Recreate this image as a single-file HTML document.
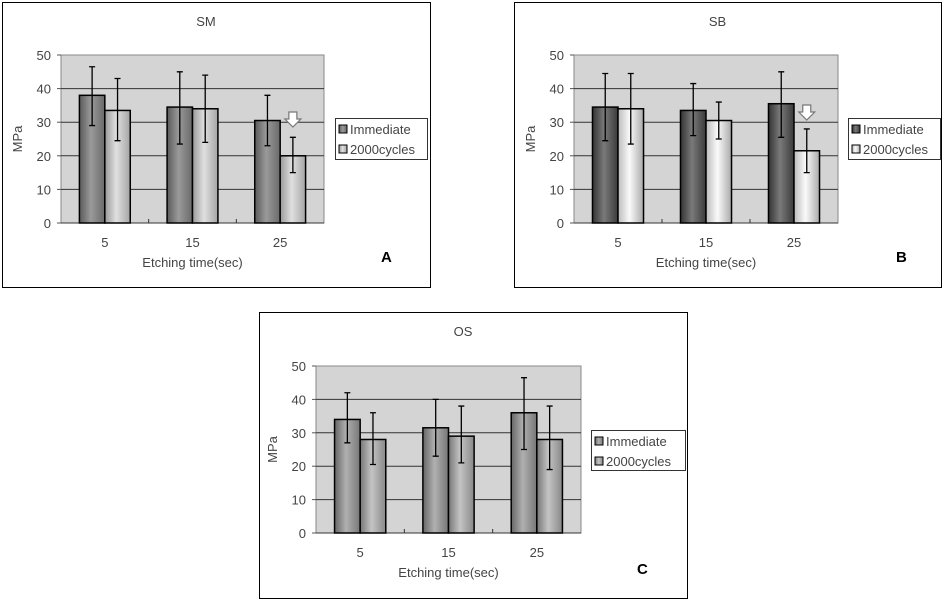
<!DOCTYPE html>
<html><head><meta charset="utf-8">
<style>
html,body{margin:0;padding:0;background:#fff;width:944px;height:600px;overflow:hidden;}
svg text{font-family:"Liberation Sans",sans-serif;}
</style></head>
<body>
<svg id="fig" width="944" height="600" viewBox="0 0 944 600" xmlns="http://www.w3.org/2000/svg">
<defs>
<linearGradient id="gA1" x1="0" x2="1"><stop offset="0" stop-color="#5a5a5a"/><stop offset="0.45" stop-color="#9a9a9a"/><stop offset="1" stop-color="#6a6a6a"/></linearGradient>
<linearGradient id="gA2" x1="0" x2="1"><stop offset="0" stop-color="#999"/><stop offset="0.45" stop-color="#e0e0e0"/><stop offset="1" stop-color="#a5a5a5"/></linearGradient>
<linearGradient id="gB1" x1="0" x2="1"><stop offset="0" stop-color="#333"/><stop offset="0.45" stop-color="#7a7a7a"/><stop offset="1" stop-color="#3a3a3a"/></linearGradient>
<linearGradient id="gB2" x1="0" x2="1"><stop offset="0" stop-color="#bbb"/><stop offset="0.45" stop-color="#fafafa"/><stop offset="1" stop-color="#aaa"/></linearGradient>
<linearGradient id="gC1" x1="0" x2="1"><stop offset="0" stop-color="#666"/><stop offset="0.45" stop-color="#b0b0b0"/><stop offset="1" stop-color="#777"/></linearGradient>
<linearGradient id="gC2" x1="0" x2="1"><stop offset="0" stop-color="#777"/><stop offset="0.45" stop-color="#c4c4c4"/><stop offset="1" stop-color="#888"/></linearGradient>
</defs>
</svg>
<script>
const categories = ["5","15","25"];
const yTicks = [0,10,20,30,40,50];
const seriesNames = ["Immediate","2000cycles"];
const smImmediate = [38,34.5,30.5];
const smImmediateHi = [46.5,45,38];
const smImmediateLo = [29,23.5,23];
const smCycles = [33.5,34,20];
const smCyclesHi = [43,44,25.5];
const smCyclesLo = [24.5,24,15];
const sbImmediate = [34.5,33.5,35.5];
const sbImmediateHi = [44.5,41.5,45];
const sbImmediateLo = [24.5,26,25.5];
const sbCycles = [34,30.5,21.5];
const sbCyclesHi = [44.5,36,28];
const sbCyclesLo = [23.5,25,15];
const osImmediate = [34,31.5,36];
const osImmediateHi = [42,40,46.5];
const osImmediateLo = [27,23,25];
const osCycles = [28,29,28];
const osCyclesHi = [36,38,38];
const osCyclesLo = [20.5,21,19];

const NS="http://www.w3.org/2000/svg";
const svg=document.getElementById('fig');
function mk(tag,attrs,parent){const e=document.createElementNS(NS,tag);for(const k in attrs)e.setAttribute(k,attrs[k]);(parent||svg).appendChild(e);return e;}

function panel(cfg){
  const g=mk('g',{});
  
  
  const fr=mk('rect',{x:cfg.box[0]+0.5,y:cfg.box[1]+0.5,width:cfg.box[2]-cfg.box[0],height:cfg.box[3]-cfg.box[1],fill:'#fff',stroke:'#000','stroke-width':1},g);
  
  
  const L=cfg.plot[0],R=cfg.plot[1],T=cfg.plot[2],B=cfg.plot[3];
  const y=v=>B-(v/50)*(B-T);
  const cw=(R-L)/categories.length;
  const x=i=>L+cw*(i+0.5);
  const bg=mk('rect',{x:L,y:T,width:R-L,height:B-T,fill:'#d4d4d4',stroke:'#888','stroke-width':1},g);
  
  
  yTicks.forEach(t=>{
    if(t>0&&t<50){const gl=mk('line',{x1:L,x2:R,y1:y(t),y2:y(t),stroke:'#333','stroke-width':1},g);
      }
    mk('line',{x1:L-4,x2:L,y1:y(t),y2:y(t),stroke:'#555'},g);
    const tx=mk('text',{x:L-10,y:y(t)+5,'text-anchor':'end','font-size':13,fill:'#444'},g);
    tx.textContent=t;
    
  });
  mk('line',{x1:L,x2:R,y1:B,y2:B,stroke:'#333'},g);
  for(let i=1;i<categories.length;i++) mk('line',{x1:L+cw*i,x2:L+cw*i,y1:B-4,y2:B,stroke:'#333'},g);
  const bw=cw*0.29;
  cfg.series.forEach((s,si)=>{
    categories.forEach((c,i)=>{
      const bx=x(i)-bw+si*bw;
      const r=mk('rect',{x:bx,y:y(s.v[i]),width:bw,height:B-y(s.v[i]),fill:s.fill,stroke:'#000','stroke-width':1.5},g);
      
      
    });
  });
  cfg.series.forEach((s,si)=>{
    categories.forEach((c,i)=>{
      const cx=x(i)-bw/2+si*bw;
      const eb=mk('path',{d:`M${cx},${y(s.hi[i])}V${y(s.lo[i])}M${cx-3},${y(s.hi[i])}H${cx+3}M${cx-3},${y(s.lo[i])}H${cx+3}`,stroke:'#000','stroke-width':1.3,fill:'none'},g);
      
      
    });
  });
  categories.forEach((c,i)=>{
    const t=mk('text',{x:x(i),y:B+24,'text-anchor':'middle','font-size':13,fill:'#444'},g);
    t.textContent=c;
    
  });
  const xt=mk('text',{x:(L+R)/2,y:B+44,'text-anchor':'middle','font-size':13,fill:'#444'},g);
  xt.textContent='Etching time(sec)';
  
  const yt=mk('text',{x:0,y:0,'text-anchor':'middle','font-size':13,fill:'#444',transform:`translate(${L-39},${(T+B)/2}) rotate(-90)`},g);
  yt.textContent='MPa';
  
  const tt=mk('text',{x:(cfg.box[0]+cfg.box[2])/2-10,y:cfg.box[1]+24,'text-anchor':'middle','font-size':13,fill:'#444'},g);
  tt.textContent=cfg.title;
  
  const lg=cfg.legend;
  const lb=mk('rect',{x:lg[0]+0.5,y:lg[1]+0.5,width:lg[2]-lg[0],height:lg[3]-lg[1],fill:'#fff',stroke:'#333'},g);
  
  cfg.series.forEach((s,si)=>{
    const ly=lg[1]+7+si*20;
    const sw=mk('rect',{x:lg[0]+4,y:ly,width:8,height:8,fill:s.fill,stroke:'#000'},g);
    
    const lt=mk('text',{x:lg[0]+15,y:ly+9,'font-size':13,fill:'#444'},g);
    lt.textContent=seriesNames[si];
    
  });
  if(cfg.arrow){
    const ax=x(2)+bw/2, ay=cfg.arrowY;
    const ar=mk('path',{d:`M${ax-4},${ay}H${ax+4}V${ay+7}H${ax+8}L${ax},${ay+15}L${ax-8},${ay+7}H${ax-4}Z`,fill:'#fff',stroke:'#777','stroke-width':1.2},g);
    
  }
  const pl=mk('text',{x:cfg.labelPos[0],y:cfg.labelPos[1],'font-size':15,'font-weight':'bold',fill:'#000'},g);
  pl.textContent=cfg.label;
  
}

panel({name:'panel-a-sm',title:'SM',label:'A',box:[2,2,430,287],plot:[61,324,55,223],legend:[335,118,427,159],labelPos:[381,262],arrow:true,arrowY:112,
  series:[{v:smImmediate,hi:smImmediateHi,lo:smImmediateLo,fill:'url(#gA1)'},{v:smCycles,hi:smCyclesHi,lo:smCyclesLo,fill:'url(#gA2)'}]});
panel({name:'panel-b-sb',title:'SB',label:'B',box:[514,2,941,287],plot:[574,838,55,223],legend:[848,118,940,159],labelPos:[896,262],arrow:true,arrowY:105,
  series:[{v:sbImmediate,hi:sbImmediateHi,lo:sbImmediateLo,fill:'url(#gB1)'},{v:sbCycles,hi:sbCyclesHi,lo:sbCyclesLo,fill:'url(#gB2)'}]});
panel({name:'panel-c-os',title:'OS',label:'C',box:[259,312,687,598],plot:[316,581,366,533],legend:[591,430,685,470],labelPos:[637,574],arrow:false,
  series:[{v:osImmediate,hi:osImmediateHi,lo:osImmediateLo,fill:'url(#gC1)'},{v:osCycles,hi:osCyclesHi,lo:osCyclesLo,fill:'url(#gC2)'}]});
</script>
</body></html>
